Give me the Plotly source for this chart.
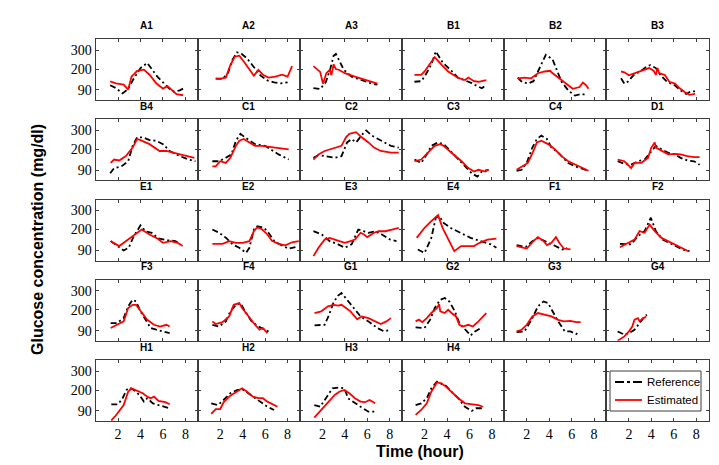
import plotly.graph_objects as go

W, H = 719, 465

PANELS = ["A1", "A2", "A3", "B1", "B2", "B3",
          "B4", "C1", "C2", "C3", "C4", "D1",
          "E1", "E2", "E3", "E4", "F1", "F2",
          "F3", "F4", "G1", "G2", "G3", "G4",
          "H1", "H2", "H3", "H4"]
XTICKS = [2, 4, 6, 8]
YTICKS = [90, 200, 300]
LEGEND_LABELS = ["Reference", "Estimated"]

REF_T = {
    "A1": [1.3, 1.8, 2.4, 2.9, 3.4, 4.0, 4.6, 5.0, 5.5, 6.0, 6.5, 7.0, 7.5, 7.9],
    "A2": [1.6, 2.2, 2.7, 3.1, 3.5, 3.9, 4.4, 5.0, 5.6, 6.2, 6.8, 7.4, 8.0],
    "A3": [1.2, 1.8, 2.3, 2.7, 3.0, 3.2, 3.5, 3.9, 4.6, 5.5, 6.4, 6.9],
    "B1": [1.1, 1.7, 2.0, 2.6, 3.0, 3.6, 4.4, 5.0, 5.6, 6.2, 6.7, 7.1, 7.5],
    "B2": [1.2, 1.5, 2.1, 2.6, 3.0, 3.5, 3.7, 4.3, 4.7, 5.1, 5.7, 6.3, 6.9, 7.3],
    "B3": [1.3, 1.6, 1.9, 2.5, 3.0, 3.6, 3.9, 4.4, 4.8, 5.4, 6.1, 6.6, 7.1, 7.5, 7.9],
    "B4": [1.3, 1.65, 2.3, 2.9, 3.3, 3.7, 4.2, 4.8, 5.4, 6.0, 6.6, 7.5, 8.3, 8.9],
    "C1": [1.3, 1.9, 2.5, 3.0, 3.4, 3.8, 4.2, 5.1, 6.0, 6.6, 7.2, 8.1],
    "C2": [1.2, 1.65, 2.2, 3.1, 3.7, 4.2, 4.6, 5.0, 5.6, 5.9, 6.4, 7.2, 8.1, 8.8],
    "C3": [1.1, 1.7, 2.2, 2.6, 3.2, 3.7, 4.3, 5.0, 5.6, 6.2, 6.7, 7.1, 7.7],
    "C4": [1.1, 1.55, 2.0, 2.5, 2.9, 3.3, 3.8, 4.2, 4.8, 5.7, 6.3, 6.9, 7.5],
    "D1": [1.0, 1.6, 2.2, 2.8, 3.4, 4.0, 4.4, 4.9, 5.5, 6.1, 6.6, 7.2, 7.8, 8.3],
    "E1": [1.34, 1.95, 2.5, 2.95, 3.4, 4.0, 4.45, 5.0, 5.6, 6.4, 7.1, 7.6],
    "E2": [1.3, 1.9, 2.5, 3.1, 3.7, 4.3, 4.6, 5.0, 5.3, 5.9, 6.3, 6.8, 7.2, 8.1, 8.7],
    "E3": [1.2, 1.95, 2.65, 3.4, 4.0, 4.6, 5.2, 5.7, 6.1, 6.7, 7.3, 8.0, 8.6],
    "E4": [1.4, 2.0, 2.6, 3.0, 3.3, 3.7, 4.3, 5.2, 6.1, 7.0, 7.9, 8.4],
    "F1": [1.1, 1.9, 2.5, 3.0, 3.6, 4.2, 4.8, 5.2, 5.6],
    "F2": [1.2, 1.8, 2.2, 2.8, 3.4, 3.95, 4.4, 5.0, 5.6, 6.2, 6.8, 7.4],
    "F3": [1.34, 1.9, 2.5, 2.9, 3.3, 3.6, 4.0, 4.4, 4.9, 5.4, 6.1, 6.6],
    "F4": [1.3, 1.9, 2.5, 2.9, 3.4, 3.8, 4.2, 4.8, 5.4, 6.0, 6.3],
    "G1": [1.3, 2.2, 2.6, 3.0, 3.4, 3.7, 4.1, 4.8, 5.4, 6.1, 6.9, 7.5, 8.1],
    "G2": [1.2, 2.0, 2.5, 2.9, 3.4, 3.8, 4.2, 4.7, 5.1, 5.6, 6.1, 6.5, 7.0],
    "G3": [1.1, 1.8, 2.5, 3.0, 3.5, 3.9, 4.3, 4.8, 5.4, 5.9, 6.4, 6.7],
    "G4": [1.0, 1.6, 2.0, 2.5, 2.95, 3.4, 3.6],
    "H1": [1.4, 2.0, 2.4, 2.75, 3.0, 3.4, 3.9, 4.3, 4.6, 5.1, 5.6, 6.2, 6.6],
    "H2": [1.2, 1.8, 2.3, 2.9, 3.5, 3.95, 4.5, 5.1, 5.7, 6.2, 6.8],
    "H3": [1.28, 1.8, 2.3, 2.9, 3.5, 3.95, 4.3, 4.9, 5.4, 6.1, 6.7],
    "H4": [1.2, 1.7, 2.2, 2.6, 3.1, 3.5, 3.9, 4.4, 5.0, 5.6, 6.2, 6.6, 7.2],
}
REF_G = {
    "A1": [115, 100, 72, 95, 150, 205, 232, 200, 160, 130, 100, 80, 88, 100],
    "A2": [150, 148, 180, 250, 288, 280, 255, 210, 165, 140, 130, 125, 130],
    "A3": [100, 95, 130, 200, 270, 280, 245, 196, 160, 142, 123, 118],
    "B1": [133, 136, 160, 223, 293, 235, 190, 153, 140, 126, 110, 99, 117],
    "B2": [155, 136, 123, 136, 187, 251, 275, 251, 187, 133, 87, 60, 69, 64],
    "B3": [151, 123, 133, 173, 187, 214, 220, 205, 169, 133, 114, 87, 69, 82, 82],
    "B4": [74, 101, 110, 137, 218, 263, 263, 248, 245, 227, 191, 164, 146, 137],
    "C1": [137, 137, 155, 173, 245, 281, 263, 227, 218, 195, 173, 146],
    "C2": [155, 169, 164, 155, 164, 236, 254, 236, 281, 299, 272, 245, 218, 209],
    "C3": [146, 128, 173, 218, 236, 227, 191, 146, 110, 74, 56, 83, 92],
    "C4": [87, 92, 128, 209, 254, 272, 254, 209, 182, 128, 110, 97, 87],
    "D1": [137, 123, 119, 137, 146, 191, 218, 200, 182, 173, 155, 141, 137, 119],
    "E1": [139, 113, 90, 104, 165, 222, 191, 183, 153, 144, 139, 121],
    "E2": [200, 183, 157, 122, 104, 77, 104, 200, 217, 209, 183, 140, 125, 99, 108],
    "E3": [192, 174, 139, 122, 104, 122, 200, 191, 183, 191, 174, 148, 139],
    "E4": [95, 77, 156, 262, 271, 235, 209, 183, 156, 139, 122, 104],
    "F1": [118, 108, 139, 156, 139, 122, 104, 95, 104],
    "F2": [125, 122, 122, 165, 192, 262, 192, 147, 130, 113, 95, 86],
    "F3": [130, 130, 156, 218, 253, 244, 192, 156, 104, 95, 86, 77],
    "F4": [121, 112, 139, 192, 226, 235, 192, 139, 112, 95, 86],
    "G1": [118, 121, 174, 240, 275, 288, 260, 210, 165, 139, 104, 86, 95],
    "G2": [107, 104, 148, 209, 253, 262, 244, 192, 130, 95, 65, 86, 104],
    "G3": [83, 86, 156, 218, 244, 235, 192, 139, 86, 86, 72, 86],
    "G4": [86, 69, 77, 95, 130, 165, 174],
    "H1": [125, 125, 156, 200, 213, 200, 174, 139, 157, 130, 121, 112, 104],
    "H2": [130, 121, 148, 183, 200, 205, 183, 157, 130, 112, 95],
    "H3": [121, 112, 156, 209, 213, 209, 156, 130, 112, 86, 86],
    "H4": [121, 130, 157, 209, 244, 235, 222, 191, 157, 112, 90, 104, 104],
}
EST_T = {
    "A1": [1.3, 1.8, 2.5, 2.9, 3.2, 3.7, 4.3, 4.8, 5.4, 6.0, 6.4, 6.8, 7.2, 7.8],
    "A2": [1.6, 2.0, 2.5, 2.9, 3.3, 3.7, 4.1, 4.6, 5.0, 5.4, 5.8, 6.3, 6.9, 7.5, 8.0, 8.4],
    "A3": [1.2, 1.5, 1.8, 2.05, 2.35, 2.65, 2.8, 3.0, 3.2, 3.5, 4.0, 4.9, 5.8, 6.9],
    "B1": [1.1, 1.7, 2.0, 2.5, 2.9, 3.5, 4.1, 5.0, 5.6, 5.9, 6.4, 6.8, 7.5],
    "B2": [1.2, 1.8, 2.4, 3.0, 3.6, 4.1, 4.2, 4.7, 5.1, 5.6, 6.1, 6.7, 7.0, 7.3, 7.5],
    "B3": [1.3, 1.6, 2.0, 2.5, 3.0, 3.5, 3.8, 4.2, 4.4, 4.55, 4.7, 5.2, 5.6, 6.1, 6.5, 7.0, 7.4, 7.9],
    "B4": [1.34, 1.65, 2.1, 2.7, 3.3, 3.7, 4.0, 4.8, 5.7, 6.3, 6.9, 7.5, 8.1, 8.8],
    "C1": [1.3, 1.6, 2.0, 2.5, 2.9, 3.4, 3.7, 4.1, 4.6, 5.1, 5.7, 6.3, 7.2, 8.1],
    "C2": [1.2, 1.65, 2.2, 3.1, 3.7, 4.1, 4.4, 5.0, 5.5, 6.1, 6.6, 7.2, 8.1, 8.8],
    "C3": [1.1, 1.7, 2.3, 2.9, 3.4, 3.7, 4.4, 5.3, 5.9, 6.4, 6.8, 7.4, 7.7],
    "C4": [1.1, 1.55, 2.1, 2.6, 2.9, 3.3, 3.9, 4.5, 5.1, 5.7, 6.3, 6.9, 7.5],
    "D1": [1.0, 1.6, 2.2, 2.5, 3.1, 3.7, 4.0, 4.3, 4.4, 4.9, 5.5, 6.1, 6.6, 7.2, 7.8, 8.3],
    "E1": [1.34, 2.1, 2.9, 3.5, 4.1, 4.8, 5.5, 6.0, 6.7, 7.3, 7.75],
    "E2": [1.3, 2.2, 2.8, 3.4, 4.0, 4.6, 5.0, 5.3, 5.75, 6.2, 6.6, 7.2, 7.8, 8.4, 9.0],
    "E3": [1.2, 1.65, 2.2, 2.65, 3.1, 3.6, 4.0, 4.5, 4.9, 5.4, 5.7, 6.0, 6.6, 7.0, 7.6, 8.2, 8.8],
    "E4": [1.3, 2.0, 2.6, 3.2, 3.6, 4.2, 4.65, 5.25, 5.85, 6.4, 6.9, 7.6, 8.4],
    "F1": [1.1, 2.0, 2.6, 3.0, 3.5, 3.8, 4.2, 4.6, 4.9, 5.3, 5.9],
    "F2": [1.2, 1.9, 2.5, 2.95, 3.4, 3.85, 4.3, 4.9, 5.5, 6.1, 6.7, 7.3],
    "F3": [1.34, 1.9, 2.5, 2.9, 3.3, 3.6, 4.0, 4.6, 5.2, 5.75, 6.3, 6.6],
    "F4": [1.3, 1.6, 2.2, 2.8, 3.2, 3.7, 3.95, 4.5, 5.1, 5.5, 5.8, 6.2],
    "G1": [1.3, 1.9, 2.5, 3.0, 3.4, 3.7, 4.1, 4.5, 5.1, 5.5, 6.1, 6.7, 7.2, 7.7, 8.1],
    "G2": [1.2, 1.5, 1.8, 2.2, 2.6, 3.1, 3.3, 3.4, 3.8, 4.1, 4.4, 4.8, 5.1, 5.4, 5.9, 6.3, 6.8, 7.2, 7.5],
    "G3": [1.1, 1.55, 2.0, 2.5, 3.0, 3.6, 4.2, 4.8, 5.3, 5.9, 6.4, 6.8],
    "G4": [1.0, 1.6, 2.0, 2.3, 2.5, 2.8, 2.95, 3.2, 3.55],
    "H1": [1.4, 1.8, 2.5, 2.9, 3.2, 3.6, 4.2, 4.6, 4.9, 5.2, 5.6, 6.2, 6.6],
    "H2": [1.2, 1.6, 2.0, 2.3, 2.9, 3.5, 3.95, 4.4, 4.9, 5.4, 5.8, 6.2, 6.8, 7.1],
    "H3": [1.28, 1.9, 2.5, 3.1, 3.5, 3.95, 4.4, 4.9, 5.4, 5.8, 6.2, 6.7],
    "H4": [1.2, 1.7, 2.2, 2.6, 3.1, 3.5, 3.9, 4.4, 5.0, 5.6, 6.2, 6.8, 7.2],
}
EST_G = {
    "A1": [135, 125, 118, 92, 160, 190, 197, 170, 125, 97, 110, 88, 68, 62],
    "A2": [150, 150, 155, 220, 265, 270, 240, 200, 165, 195, 170, 155, 160, 170, 160, 215],
    "A3": [215, 200, 185, 123, 178, 195, 168, 225, 200, 195, 178, 160, 142, 123],
    "B1": [169, 169, 187, 230, 262, 223, 187, 153, 142, 155, 136, 133, 142],
    "B2": [151, 155, 151, 178, 187, 191, 183, 160, 142, 123, 96, 105, 129, 114, 96],
    "B3": [187, 183, 167, 178, 187, 196, 205, 191, 169, 205, 178, 169, 133, 123, 100, 78, 64, 69],
    "B4": [128, 146, 141, 164, 209, 254, 248, 227, 191, 191, 182, 173, 164, 155],
    "C1": [110, 110, 137, 128, 155, 218, 245, 254, 236, 218, 218, 214, 209, 200],
    "C2": [146, 173, 191, 209, 218, 263, 281, 290, 263, 236, 209, 191, 182, 182],
    "C3": [137, 146, 182, 218, 227, 218, 182, 137, 101, 83, 92, 83, 92],
    "C4": [92, 110, 128, 191, 236, 245, 227, 200, 164, 137, 119, 101, 87],
    "D1": [146, 137, 101, 128, 128, 155, 209, 236, 209, 191, 173, 176, 173, 164, 159, 159],
    "E1": [139, 113, 147, 174, 200, 174, 153, 130, 139, 130, 113],
    "E2": [125, 125, 139, 130, 130, 139, 192, 212, 200, 174, 141, 125, 117, 133, 139],
    "E3": [60, 104, 147, 156, 147, 139, 130, 139, 147, 183, 174, 160, 183, 191, 191, 200, 209],
    "E4": [156, 209, 244, 276, 209, 139, 86, 113, 113, 113, 130, 147, 152],
    "F1": [113, 100, 139, 160, 139, 118, 130, 160, 130, 100, 95],
    "F2": [107, 130, 147, 192, 183, 226, 192, 156, 139, 122, 104, 86],
    "F3": [104, 121, 139, 209, 226, 226, 192, 147, 121, 112, 121, 112],
    "F4": [139, 125, 135, 165, 226, 235, 209, 165, 121, 95, 104, 77],
    "G1": [183, 192, 218, 226, 222, 226, 209, 192, 150, 165, 156, 139, 125, 139, 156],
    "G2": [139, 148, 135, 156, 183, 209, 230, 192, 183, 200, 183, 165, 121, 112, 121, 112, 139, 165, 183],
    "G3": [86, 95, 121, 165, 183, 174, 165, 147, 139, 142, 135, 135],
    "G4": [37, 60, 86, 112, 148, 156, 139, 153, 165],
    "H1": [40, 66, 121, 191, 209, 200, 183, 165, 157, 165, 143, 136, 125],
    "H2": [74, 100, 100, 135, 170, 191, 209, 191, 165, 157, 157, 139, 121, 112],
    "H3": [55, 95, 130, 174, 191, 200, 183, 157, 139, 136, 148, 130],
    "H4": [69, 95, 130, 191, 240, 235, 218, 191, 157, 130, 125, 121, 112],
}

XRANGE = [0, 9.1]
YRANGE = [37, 358]

L0, CW = 87.6, 102.17
T0, RP, PH = 31.0, 80.25, 61.0
AXC = "#3c3c3c"
REF_COLOR = "black"
EST_COLOR = "#ff0000"
REF_DASH = "6px,3px,2px,3px"
LW = 1.8

fig = go.Figure()
annotations = []
shapes = []
layout_axes = {}

for i in range(30):
    r, c = divmod(i, 6)
    n = i + 1
    xs = "x" if n == 1 else f"x{n}"
    ys = "y" if n == 1 else f"y{n}"
    xk = "xaxis" if n == 1 else f"xaxis{n}"
    yk = "yaxis" if n == 1 else f"yaxis{n}"
    x0 = (L0 + c * CW) / W
    x1 = (L0 + (c + 1) * CW) / W
    top = T0 + r * RP
    y1 = 1 - top / H
    y0 = 1 - (top + PH) / H
    common = dict(showline=True, linecolor=AXC, linewidth=1, mirror="ticks",
                  ticks="inside", ticklen=3, tickwidth=1, tickcolor=AXC,
                  showgrid=False, zeroline=False,
                  tickfont=dict(family="Liberation Serif", size=14, color="black"))
    layout_axes[xk] = dict(domain=[x0, x1], anchor=ys, range=XRANGE,
                           tickvals=XTICKS, showticklabels=(r == 4), **common)
    layout_axes[yk] = dict(domain=[y0, y1], anchor=xs, range=YRANGE,
                           tickvals=YTICKS, showticklabels=(c == 0), **common)
    if i < len(PANELS):
        name = PANELS[i]
        fig.add_trace(go.Scatter(x=REF_T[name], y=REF_G[name], mode="lines",
                                 line=dict(color=REF_COLOR, width=LW, dash=REF_DASH),
                                 name=LEGEND_LABELS[0], showlegend=False,
                                 xaxis=xs, yaxis=ys))
        fig.add_trace(go.Scatter(x=EST_T[name], y=EST_G[name], mode="lines",
                                 line=dict(color=EST_COLOR, width=LW),
                                 name=LEGEND_LABELS[1], showlegend=False,
                                 xaxis=xs, yaxis=ys))
        annotations.append(dict(text=f"<b>{name}</b>", x=(x0 + x1) / 2,
                                y=1 - (top - 13) / H, xref="paper", yref="paper",
                                showarrow=False, xanchor="center", yanchor="middle",
                                font=dict(family="Liberation Sans", size=10, color="black")))
    else:
        # empty axes (drawn, no data)
        fig.add_trace(go.Scatter(x=[None], y=[None], mode="lines", showlegend=False,
                                 hoverinfo="skip", xaxis=xs, yaxis=ys))

# legend box drawn in the last panel (paper coordinates)
LB = dict(x0=602, x1=693, y0=363, y1=403)
shapes.append(dict(type="rect", xref="paper", yref="paper",
                   x0=LB["x0"] / W, x1=LB["x1"] / W,
                   y0=1 - LB["y1"] / H, y1=1 - LB["y0"] / H,
                   line=dict(color=AXC, width=1), fillcolor="white"))
for k, (lab, col, dash) in enumerate([(LEGEND_LABELS[0], REF_COLOR, "dashdot"),
                                      (LEGEND_LABELS[1], EST_COLOR, "solid")]):
    yc = 1 - (374 + k * 18) / H
    shapes.append(dict(type="line", xref="paper", yref="paper",
                       x0=607 / W, x1=634 / W, y0=yc, y1=yc,
                       line=dict(color=col, width=LW, dash=dash)))
    annotations.append(dict(text=lab, x=637 / W, y=yc, xref="paper", yref="paper",
                            showarrow=False, xanchor="left", yanchor="middle",
                            font=dict(family="Liberation Sans", size=11.5, color="black")))

annotations.append(dict(text="<b>Time (hour)</b>", x=412 / W, y=1 - 443 / H,
                        xref="paper", yref="paper", showarrow=False,
                        xanchor="center", yanchor="middle",
                        font=dict(family="Liberation Sans", size=16, color="black")))
annotations.append(dict(text="<b>Glucose concentration (mg/dl)</b>", x=29 / W,
                        y=1 - 232 / H, xref="paper", yref="paper", showarrow=False,
                        textangle=-90, xanchor="center", yanchor="middle",
                        font=dict(family="Liberation Sans", size=16, color="black")))

fig.update_layout(
    width=W, height=H,
    margin=dict(l=0, r=0, t=0, b=0),
    paper_bgcolor="white", plot_bgcolor="white",
    annotations=annotations,
    shapes=shapes,
    showlegend=False,
    **layout_axes,
)

fig.write_html("out.html")
